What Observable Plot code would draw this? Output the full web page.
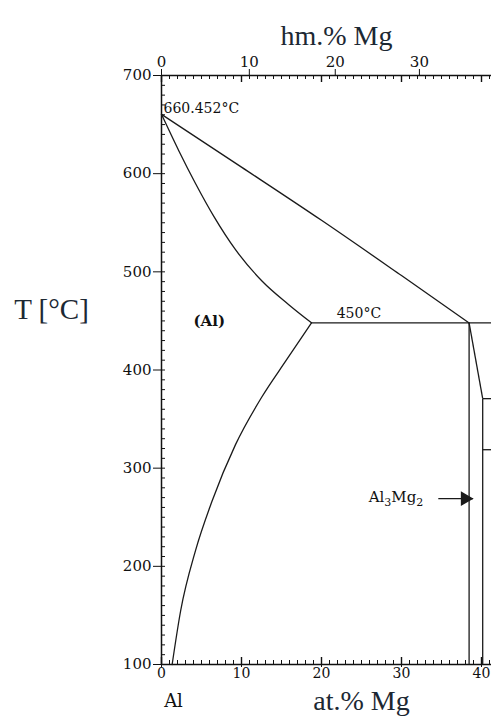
<!DOCTYPE html>
<html><head><meta charset="utf-8">
<script src="https://cdn.jsdelivr.net/npm/d3@7"></script>
<script src="https://cdn.jsdelivr.net/npm/@observablehq/plot@0.6"></script>
<style>html,body{margin:0;padding:0;background:#fff}svg{display:block}</style>
</head><body><div id="chart"></div>
<script>
// ---- data ----
const atMajorTicks = [0, 10, 20, 30, 40];              // at.% Mg (bottom)
const wtTickLabels = ["0", "10", "20", "30"];           // hm.% Mg (top) labels
const wtTickAt = [0, 10.98, 21.72, 32.24];              // their at.% positions
const tempTicks = [100, 200, 300, 400, 500, 600, 700];  // °C
const atMinorTicks = d3.range(0, 42, 1);
const tempMinorTicks = d3.range(100, 701, 10);

const liquidus = [[0, 660.45], [10, 606.7], [20, 552.5], [30, 496.2], [38.45, 448]];
const solidus = [[0, 660.45], [2.16, 623.4], [4.25, 590], [6.54, 556.5], [9.25, 522.6], [12.59, 490.4], [15.91, 466.5], [18.75, 448]];
const solvus = [[1.33, 100], [2.4, 155], [4.25, 216], [6.3, 266], [9.25, 324], [12.5, 372], [15.6, 410], [18.75, 448]];
// straight boundaries: [x1, T1, x2, T2]
const segments = [
  [18.75, 448, 41.25, 448],
  [38.45, 448, 38.45, 100],
  [38.45, 448, 40.15, 370.8],
  [40.15, 370.8, 40.15, 100],
  [40.15, 370.8, 41.25, 370.8],
  [40.15, 318.8, 41.25, 318.8]
];
const meltLabel = {x: 0, T: 660.45, text: "660.452°C"};
const eutLabel = {x: 21.9, T: 448, text: "450°C"};
const phaseLabel = {x: 4.0, T: 448, text: "(Al)"};
const compLabel = {x: 25.9, T: 268.9, text: "Al3Mg2"};
const arrow = {x1: 34.6, x2: 38.45, T: 268.9};

// ---- chart ----
const W = 491, H = 722, mL = 161, mR = 0, mT = 75, mB = 58;
const innerW = W - mL - mR, innerH = H - mT - mB;
const ink = "#1a1a1a";
const titleInk = "#1c2833";

const chart = Plot.plot({
  width: W, height: H,
  marginLeft: mL, marginRight: mR, marginTop: mT, marginBottom: mB,
  x: {domain: [0, 41.25]},
  y: {domain: [100, 700]},
  style: {fontFamily: "DejaVu Serif", fontSize: "15px", color: "#111", background: "#fff"},
  marks: [
    // frame lines
    Plot.ruleY([100, 700], {stroke: "#111", strokeWidth: 1.5}),
    Plot.ruleX([0], {stroke: "#111", strokeWidth: 1.5}),
    // inward minor ticks
    Plot.tickX(atMinorTicks, {x: d => d, insetTop: innerH - 4, stroke: "#111"}),
    Plot.tickX(atMajorTicks, {x: d => d, insetTop: innerH - 7, stroke: "#111", strokeWidth: 1.4}),
    Plot.tickX(atMinorTicks, {x: d => d, insetBottom: innerH - 4, stroke: "#111"}),
    Plot.tickX(atMajorTicks, {x: d => d, insetBottom: innerH - 7, stroke: "#111", strokeWidth: 1.4}),
    Plot.tickY(tempMinorTicks, {y: d => d, insetRight: innerW - 4, stroke: "#111"}),
    // axes
    Plot.axisX(atMajorTicks, {anchor: "bottom", tickSize: 3, tickPadding: 1, label: null, fontSize: 14}),
    Plot.axisX(wtTickAt, {anchor: "top", tickSize: 7, tickPadding: 2, label: null, fontSize: 15,
      tickFormat: d => wtTickLabels[wtTickAt.indexOf(d)]}),
    Plot.axisY(tempTicks, {anchor: "left", tickSize: 8, tickPadding: 2, label: null, fontSize: 15}),
    // phase boundaries
    Plot.line(liquidus, {x: d => d[0], y: d => d[1], curve: "monotone-x", stroke: ink, strokeWidth: 1.3}),
    Plot.line(solidus, {x: d => d[0], y: d => d[1], curve: "monotone-x", stroke: ink, strokeWidth: 1.3}),
    Plot.line(solvus, {x: d => d[0], y: d => d[1], curve: "monotone-x", stroke: ink, strokeWidth: 1.3}),
    Plot.link(segments, {x1: d => d[0], y1: d => d[1], x2: d => d[2], y2: d => d[3], stroke: ink, strokeWidth: 1.3}),
    // arrow to Al3Mg2
    Plot.link([arrow], {x1: "x1", x2: d => d.x2 + 0.5, y1: "T", y2: "T", stroke: ink, strokeWidth: 1.3}),
    Plot.dot([arrow], {x: "x2", y: "T", symbol: "triangle", r: 4.5, rotate: 90, dx: -4, fill: ink, stroke: ink}),
    // in-plot labels
    Plot.text([meltLabel], {x: "x", y: "T", text: "text", textAnchor: "start", dx: 2, dy: -6, fontSize: 14, fill: "#111"}),
    Plot.text([eutLabel], {x: "x", y: "T", text: "text", textAnchor: "start", dy: -9, fontSize: 14, fill: "#111"}),
    Plot.text([phaseLabel], {x: "x", y: "T", text: "text", textAnchor: "start", dy: -2, fontSize: 15, fontWeight: "bold", fill: "#111"}),
    Plot.text([compLabel], {x: "x", y: "T", text: "text", textAnchor: "start", dy: -2, fontSize: 15, fill: "#111"}),
    // titles
    Plot.text(["hm.% Mg"], {text: d => d, frameAnchor: "top", dx: 10, dy: -50, fontSize: 28, fontFamily: "Liberation Serif", fill: titleInk}),
    Plot.text(["at.% Mg"], {text: d => d, frameAnchor: "bottom", dx: 35, dy: 45, fontSize: 28, fontFamily: "Liberation Serif", fill: titleInk}),
    Plot.text(["T [°C]"], {text: d => d, frameAnchor: "left", textAnchor: "middle", dx: -110, dy: -60, fontSize: 29, fontFamily: "Liberation Serif", fill: titleInk}),
    Plot.text(["Al"], {text: d => d, frameAnchor: "bottom-left", textAnchor: "middle", dx: 12, dy: 42, fontSize: 18, fill: "#111"})
  ]
});
// subscripts in Al3Mg2
d3.select(chart).selectAll("text").filter(function() { return this.textContent === "Al3Mg2"; })
  .each(function() {
    const t = d3.select(this);
    t.text(null);
    t.append("tspan").text("Al");
    t.append("tspan").attr("font-size", 11).attr("dy", 4).text("3");
    t.append("tspan").attr("dy", -4).text("Mg");
    t.append("tspan").attr("font-size", 11).attr("dy", 4).text("2");
  });
document.getElementById("chart").append(chart);
</script>
</body></html>
